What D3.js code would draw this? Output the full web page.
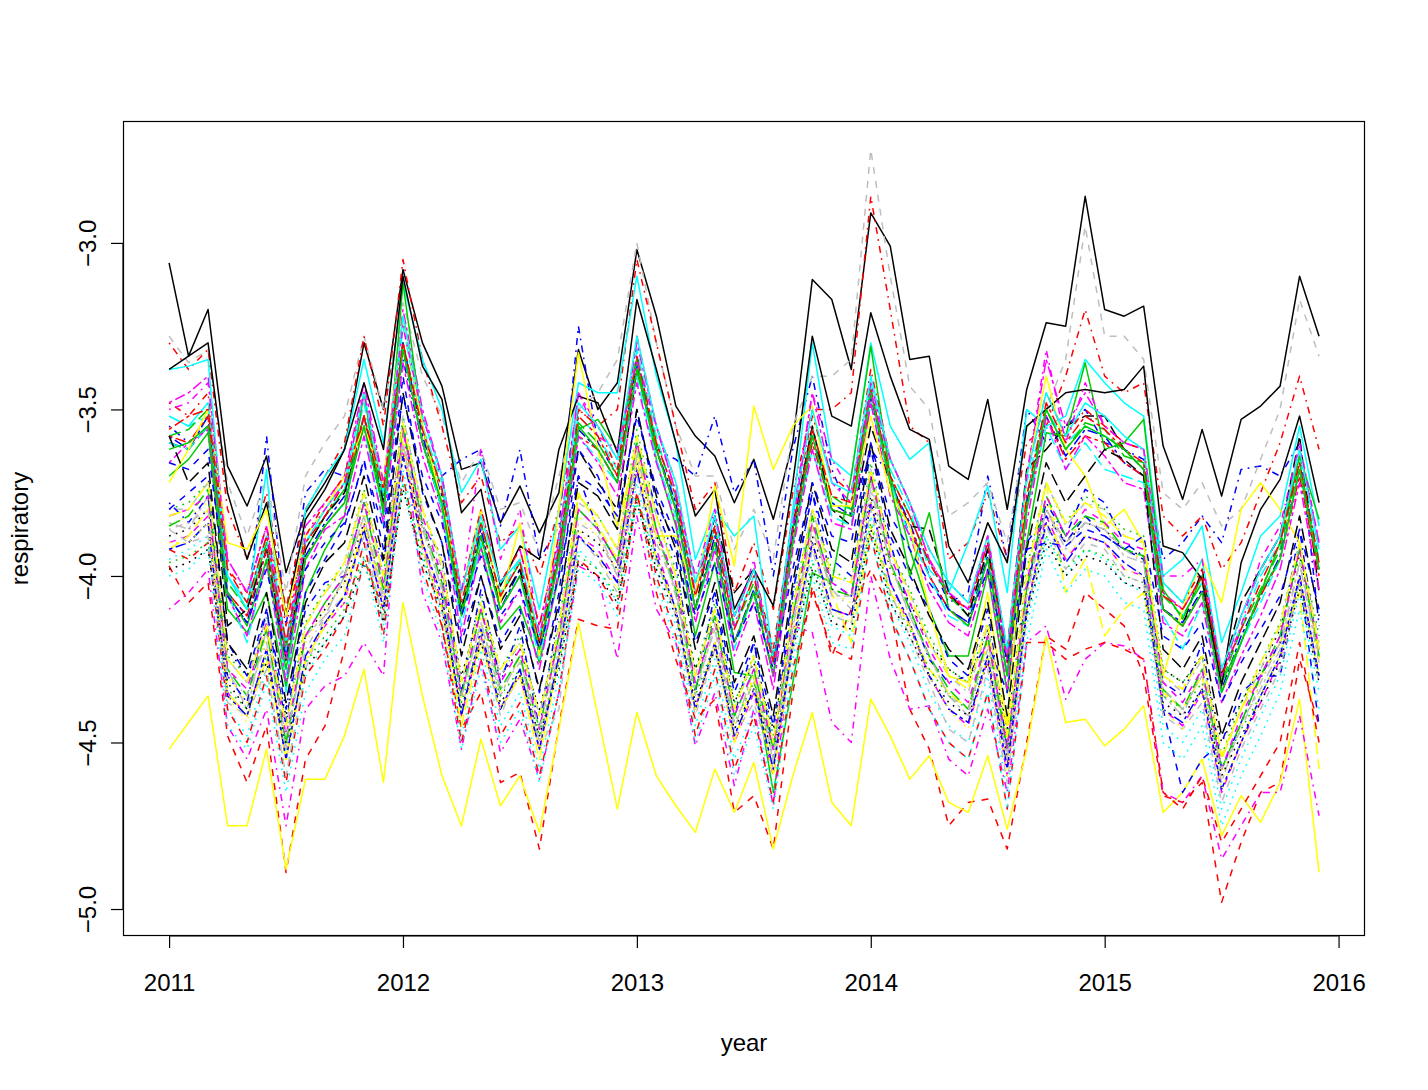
<!DOCTYPE html>
<html><head><meta charset="utf-8">
<script src="https://cdn.jsdelivr.net/npm/d3@7"></script>
<style>html,body{margin:0;padding:0;background:#fff;}svg text{font-family:"Liberation Sans",Arial,sans-serif;}</style>
</head><body>
<svg id="chart" width="1428" height="1090"></svg>
<script>
const yearTicks=[2011,2012,2013,2014,2015,2016];
const yTicks=[-5.0,-4.5,-4.0,-3.5,-3.0];
const palette=["#000000","#FF0000","#00CD00","#0000FF","#00FFFF","#FF00FF","#FFFF00","#BEBEBE"];
const dashes=[null,"7,7","1.75,5.25","1.75,5.25,7,5.25","12.25,5.25","3.5,3.5,10.5,3.5"];
const xLabel="year", yLabel="respiratory";

const s01=[-3.06,-3.34,-3.20,-3.67,-3.79,-3.64,-3.99,-3.81,-3.72,-3.62,-3.30,-3.50,-3.08,-3.30,-3.43,-3.68,-3.66,-3.84,-3.73,-3.87,-3.75,-3.32,-3.50,-3.42,-3.02,-3.22,-3.49,-3.58,-3.64,-3.78,-3.65,-3.83,-3.60,-3.11,-3.17,-3.38,-2.91,-3.01,-3.35,-3.34,-3.67,-3.71,-3.47,-3.80,-3.44,-3.24,-3.25,-2.86,-3.20,-3.22,-3.19,-3.61,-3.77,-3.56,-3.76,-3.53,-3.49,-3.43,-3.10,-3.28];
const s02=[-3.97,-4.08,-4.02,-4.48,-4.62,-4.45,-4.89,-4.55,-4.45,-4.22,-3.95,-4.10,-3.55,-3.90,-4.15,-4.46,-4.35,-4.62,-4.59,-4.82,-4.45,-4.13,-4.15,-4.16,-3.75,-4.05,-4.25,-4.43,-4.37,-4.71,-4.66,-4.82,-4.35,-4.03,-4.24,-4.10,-3.98,-4.10,-4.40,-4.52,-4.75,-4.68,-4.67,-4.82,-4.50,-4.18,-4.22,-4.05,-4.10,-4.15,-4.30,-4.66,-4.68,-4.62,-4.98,-4.80,-4.65,-4.62,-4.25,-4.45];
const s03=[-3.80,-3.78,-3.72,-4.24,-4.30,-4.12,-4.44,-4.14,-4.04,-3.96,-3.74,-4.00,-3.52,-3.80,-3.96,-4.32,-4.06,-4.28,-4.18,-4.42,-4.14,-3.76,-3.82,-3.92,-3.56,-3.82,-3.98,-4.28,-4.08,-4.38,-4.24,-4.48,-4.08,-3.80,-3.98,-4.02,-3.66,-3.92,-4.04,-4.18,-4.28,-4.32,-4.14,-4.48,-3.98,-3.72,-3.84,-3.76,-3.80,-3.86,-3.88,-4.28,-4.32,-4.24,-4.54,-4.38,-4.26,-4.14,-3.90,-4.18];
const s04=[-3.55,-3.60,-3.55,-4.05,-4.12,-3.58,-4.15,-3.75,-3.68,-3.70,-3.55,-3.80,-3.35,-3.60,-3.70,-3.65,-3.62,-3.85,-3.62,-3.95,-3.85,-3.25,-3.60,-3.70,-3.35,-3.62,-3.65,-3.70,-3.52,-3.75,-3.65,-4.00,-3.62,-3.40,-3.68,-3.82,-3.62,-3.70,-3.88,-3.95,-4.08,-4.05,-3.70,-3.95,-3.50,-3.60,-3.55,-3.50,-3.60,-3.62,-3.65,-3.95,-3.90,-3.82,-3.90,-3.68,-3.67,-3.70,-3.60,-4.15];
const s05=[-3.52,-3.55,-3.52,-4.00,-4.10,-3.90,-4.22,-3.90,-3.82,-3.74,-3.48,-3.78,-3.25,-3.55,-3.72,-4.10,-3.85,-4.05,-3.95,-4.20,-3.92,-3.52,-3.58,-3.68,-3.32,-3.58,-3.78,-4.05,-3.85,-4.15,-4.00,-4.25,-3.85,-3.55,-3.78,-3.80,-3.42,-3.68,-3.80,-3.98,-4.05,-4.12,-3.92,-4.25,-3.72,-3.50,-3.60,-3.55,-3.58,-3.62,-3.68,-4.05,-4.12,-4.02,-4.30,-4.15,-4.00,-3.90,-3.65,-3.95];
const s06=[-3.48,-3.45,-3.40,-3.95,-4.05,-3.85,-4.20,-3.85,-3.78,-3.70,-3.42,-3.72,-3.20,-3.50,-3.70,-4.05,-3.80,-4.02,-3.92,-4.15,-3.88,-3.45,-3.55,-3.65,-3.30,-3.55,-3.75,-4.05,-3.82,-4.12,-3.98,-4.25,-3.82,-3.45,-3.72,-3.78,-3.42,-3.65,-3.78,-3.95,-4.05,-4.10,-3.90,-4.25,-3.70,-3.35,-3.55,-3.45,-3.55,-3.60,-3.62,-4.05,-4.10,-4.00,-4.30,-4.12,-3.98,-3.88,-3.62,-3.90];
const s07=[-4.52,-4.44,-4.36,-4.75,-4.75,-4.52,-4.88,-4.61,-4.61,-4.48,-4.28,-4.62,-4.08,-4.36,-4.60,-4.75,-4.49,-4.69,-4.60,-4.77,-4.46,-4.14,-4.42,-4.70,-4.41,-4.60,-4.69,-4.77,-4.58,-4.71,-4.56,-4.82,-4.60,-4.41,-4.68,-4.75,-4.37,-4.48,-4.61,-4.54,-4.68,-4.71,-4.54,-4.76,-4.52,-4.18,-4.44,-4.43,-4.51,-4.46,-4.39,-4.71,-4.65,-4.55,-4.78,-4.66,-4.74,-4.62,-4.37,-4.89];
const s08=[-3.28,-3.36,-3.32,-3.72,-3.88,-3.70,-4.05,-3.70,-3.60,-3.52,-3.28,-3.50,-3.18,-3.40,-3.52,-3.72,-3.62,-3.80,-3.78,-3.93,-3.70,-3.50,-3.45,-3.35,-3.00,-3.30,-3.55,-3.70,-3.70,-3.92,-3.80,-3.95,-3.55,-3.40,-3.40,-3.35,-2.72,-3.10,-3.43,-3.50,-3.82,-3.78,-3.72,-3.90,-3.55,-3.50,-3.35,-2.95,-3.28,-3.28,-3.35,-3.75,-3.80,-3.72,-3.85,-3.80,-3.65,-3.50,-3.17,-3.34];
const s09=[-3.88,-3.86,-3.80,-4.22,-4.30,-4.16,-4.42,-4.18,-4.10,-4.02,-3.84,-4.04,-3.62,-3.86,-4.00,-4.30,-4.10,-4.30,-4.22,-4.40,-4.18,-3.86,-3.90,-3.98,-3.66,-3.88,-4.02,-4.28,-4.12,-4.38,-4.26,-4.46,-4.12,-3.88,-4.04,-4.06,-3.76,-3.98,-4.08,-4.20,-4.28,-4.32,-4.16,-4.46,-4.02,-3.80,-3.90,-3.84,-3.86,-3.92,-3.94,-4.28,-4.32,-4.24,-4.50,-4.38,-4.28,-4.16,-3.94,-4.22];
const s10=[-3.30,-3.38,-3.32,-3.80,-3.95,-3.75,-4.10,-3.80,-3.70,-3.60,-3.28,-3.55,-3.05,-3.35,-3.55,-3.78,-3.70,-3.90,-3.85,-4.00,-3.80,-3.50,-3.55,-3.50,-3.05,-3.30,-3.55,-3.80,-3.72,-4.05,-3.90,-4.10,-3.75,-3.50,-3.50,-3.45,-2.86,-3.20,-3.55,-3.60,-3.95,-3.90,-3.75,-3.95,-3.60,-3.55,-3.40,-3.20,-3.40,-3.45,-3.42,-3.82,-3.88,-3.82,-3.98,-3.90,-3.75,-3.60,-3.40,-3.62];
const s11=[-3.58,-3.56,-3.50,-4.02,-4.10,-3.90,-4.22,-3.92,-3.82,-3.74,-3.52,-3.76,-3.30,-3.56,-3.74,-4.10,-3.84,-4.06,-3.96,-4.20,-3.92,-3.54,-3.60,-3.70,-3.34,-3.60,-3.76,-4.06,-3.86,-4.16,-4.02,-4.26,-3.86,-3.56,-3.76,-3.80,-3.44,-3.70,-3.82,-3.96,-4.06,-4.12,-3.92,-4.26,-3.76,-3.50,-3.62,-3.54,-3.56,-3.64,-3.66,-4.06,-4.12,-4.02,-4.32,-4.16,-4.04,-3.92,-3.66,-3.96];
const s12=[-3.58,-3.62,-3.52,-4.06,-4.14,-3.92,-4.26,-3.94,-3.84,-3.76,-3.52,-3.78,-3.30,-3.58,-3.76,-4.12,-3.86,-4.10,-3.98,-4.24,-3.94,-3.56,-3.62,-3.72,-3.36,-3.62,-3.78,-4.10,-3.88,-4.20,-4.04,-4.30,-3.88,-3.58,-3.78,-3.82,-3.46,-3.72,-3.84,-4.00,-4.10,-4.14,-3.94,-4.30,-3.78,-3.52,-3.64,-3.56,-3.58,-3.66,-3.70,-4.10,-4.14,-4.04,-4.34,-4.18,-4.06,-3.94,-3.68,-3.98];
const s13=[-3.38,-3.37,-3.35,-4.00,-4.10,-3.68,-4.35,-3.80,-3.70,-3.62,-3.35,-3.60,-3.12,-3.35,-3.50,-3.75,-3.65,-3.92,-3.85,-4.10,-3.80,-3.42,-3.45,-3.45,-3.10,-3.40,-3.60,-3.95,-3.80,-3.88,-3.82,-4.25,-3.80,-3.30,-3.65,-3.70,-3.30,-3.55,-3.65,-3.60,-4.05,-3.90,-3.73,-4.05,-3.50,-3.55,-3.52,-3.35,-3.42,-3.48,-3.52,-4.00,-3.95,-3.85,-4.20,-4.05,-3.88,-3.82,-3.55,-3.85];
const s14=[-3.90,-3.88,-3.82,-4.35,-4.42,-4.22,-4.55,-4.25,-4.15,-4.08,-3.85,-4.10,-3.62,-3.90,-4.08,-4.42,-4.18,-4.40,-4.30,-4.52,-4.25,-3.88,-3.92,-4.02,-3.68,-3.92,-4.10,-4.40,-4.20,-4.50,-4.35,-4.60,-4.20,-3.90,-4.10,-4.12,-3.78,-4.02,-4.15,-4.30,-4.40,-4.45,-4.25,-4.60,-4.10,-3.82,-3.95,-3.88,-3.90,-3.98,-4.00,-4.40,-4.45,-4.35,-4.65,-4.50,-4.38,-4.25,-4.00,-4.30];
const s15=[-3.85,-3.82,-3.78,-4.30,-4.38,-4.18,-4.50,-4.20,-4.10,-4.02,-3.80,-4.05,-3.58,-3.85,-4.02,-4.38,-4.12,-4.35,-4.25,-4.48,-4.20,-3.82,-3.88,-3.98,-3.62,-3.88,-4.05,-4.35,-4.15,-4.45,-4.30,-4.55,-4.15,-3.85,-4.05,-4.08,-3.72,-3.98,-4.10,-4.25,-4.35,-4.40,-4.20,-4.55,-4.05,-3.78,-3.90,-3.82,-3.85,-3.92,-3.95,-4.35,-4.40,-4.30,-4.60,-4.45,-4.32,-4.20,-3.95,-4.25];
const s16=[-3.80,-3.80,-3.72,-4.25,-4.32,-4.12,-4.45,-4.15,-4.05,-3.98,-3.75,-4.00,-3.52,-3.80,-3.98,-4.32,-4.08,-4.30,-4.20,-4.42,-4.15,-3.78,-3.82,-3.92,-3.58,-3.82,-4.00,-4.30,-4.10,-4.40,-4.25,-4.50,-4.10,-3.80,-4.00,-4.02,-3.68,-3.92,-4.05,-4.20,-4.30,-4.35,-4.15,-4.50,-4.00,-3.72,-3.85,-3.78,-3.80,-3.88,-3.90,-4.30,-4.35,-4.25,-4.55,-4.40,-4.28,-4.15,-3.90,-4.20];
const s17=[-3.60,-3.62,-3.55,-4.15,-4.10,-3.92,-4.25,-3.92,-3.82,-3.75,-3.55,-3.78,-3.32,-3.60,-3.80,-4.10,-3.88,-4.08,-3.98,-4.20,-3.95,-3.62,-3.72,-3.80,-3.38,-3.62,-3.80,-4.10,-3.82,-4.05,-3.98,-4.25,-3.85,-3.55,-3.80,-3.85,-3.55,-3.72,-3.85,-3.86,-4.05,-4.12,-3.92,-4.22,-3.68,-3.62,-3.55,-3.52,-3.52,-3.62,-3.68,-4.10,-4.15,-3.98,-4.30,-4.08,-3.98,-3.88,-3.58,-4.05];
const s18=[-3.58,-3.60,-3.52,-4.05,-4.12,-3.92,-4.25,-3.95,-3.85,-3.78,-3.52,-3.80,-3.30,-3.60,-3.78,-4.12,-3.88,-4.10,-4.00,-4.22,-3.95,-3.58,-3.62,-3.72,-3.38,-3.62,-3.80,-4.10,-3.90,-4.20,-4.05,-4.30,-3.90,-3.60,-3.80,-3.82,-3.48,-3.72,-3.85,-4.00,-4.10,-4.15,-3.95,-4.30,-3.80,-3.52,-3.65,-3.58,-3.60,-3.66,-3.70,-4.10,-4.15,-4.05,-4.35,-4.20,-4.06,-3.95,-3.70,-4.00];
const s19=[-3.70,-3.65,-3.57,-4.10,-4.17,-4.05,-4.33,-4.05,-3.92,-3.82,-3.45,-3.82,-3.12,-3.55,-3.80,-4.11,-3.91,-4.16,-4.09,-4.26,-4.00,-3.56,-3.53,-3.62,-3.35,-3.65,-3.85,-4.18,-3.96,-4.29,-4.30,-4.65,-4.32,-3.99,-4.02,-3.70,-3.31,-3.70,-3.92,-4.10,-4.24,-4.24,-3.99,-4.35,-3.90,-3.57,-3.58,-3.36,-3.62,-3.60,-3.53,-4.04,-4.13,-4.00,-4.32,-4.20,-4.05,-3.90,-3.64,-3.83];
const s20=[-3.80,-3.75,-3.70,-4.20,-4.30,-4.10,-4.45,-4.05,-3.95,-3.85,-3.65,-3.92,-3.40,-3.75,-3.90,-4.20,-4.00,-4.20,-4.10,-4.35,-4.05,-3.62,-3.70,-3.85,-3.50,-3.78,-3.90,-4.20,-4.05,-4.35,-4.20,-4.45,-4.05,-3.75,-3.95,-4.00,-3.62,-3.88,-4.00,-4.10,-4.25,-4.30,-4.20,-4.35,-3.90,-3.82,-3.90,-3.82,-3.88,-3.92,-3.95,-4.40,-4.65,-4.55,-4.50,-4.35,-4.30,-4.30,-4.00,-4.45];
const s21=[-3.95,-3.92,-3.88,-4.40,-4.48,-4.28,-4.60,-4.30,-4.20,-4.12,-3.90,-4.15,-3.68,-3.95,-4.12,-4.48,-4.22,-4.45,-4.35,-4.58,-4.30,-3.92,-3.98,-4.08,-3.72,-3.98,-4.15,-4.45,-4.25,-4.55,-4.40,-4.65,-4.25,-3.95,-4.15,-4.18,-3.82,-4.08,-4.20,-4.35,-4.45,-4.50,-4.30,-4.65,-4.15,-3.88,-4.00,-3.92,-3.95,-4.02,-4.05,-4.45,-4.50,-4.40,-4.70,-4.55,-4.42,-4.30,-4.05,-4.35];
const s22=[-4.10,-4.05,-3.98,-4.45,-4.55,-4.40,-4.75,-4.40,-4.33,-4.30,-4.20,-4.30,-3.55,-4.05,-4.20,-4.52,-4.25,-4.53,-4.43,-4.61,-4.35,-3.97,-4.00,-4.25,-3.82,-4.10,-4.20,-4.51,-4.35,-4.63,-4.40,-4.69,-4.15,-4.17,-4.44,-4.50,-4.00,-4.25,-4.40,-4.39,-4.55,-4.60,-4.40,-4.65,-4.20,-4.15,-4.37,-4.25,-4.20,-4.21,-4.25,-4.65,-4.68,-4.60,-4.85,-4.75,-4.65,-4.65,-4.42,-4.72];
const s23=[-3.92,-3.88,-3.80,-4.35,-4.42,-4.25,-4.55,-4.25,-4.15,-4.05,-3.85,-4.05,-3.60,-3.92,-4.10,-4.45,-4.20,-4.40,-4.30,-4.55,-4.25,-3.75,-3.85,-3.95,-3.65,-3.95,-4.10,-4.40,-4.20,-4.50,-4.30,-4.60,-4.20,-3.85,-4.05,-4.20,-3.85,-4.05,-4.15,-4.28,-4.35,-4.40,-4.20,-4.50,-4.00,-3.72,-4.05,-3.95,-4.18,-4.10,-4.05,-4.35,-4.40,-4.30,-4.55,-4.40,-4.30,-4.20,-4.05,-4.58];
const s24=[-3.84,-3.86,-3.76,-4.28,-4.40,-4.16,-4.52,-4.18,-4.12,-4.00,-3.82,-4.08,-3.56,-3.86,-4.04,-4.36,-4.14,-4.36,-4.24,-4.50,-4.22,-3.80,-3.86,-4.00,-3.64,-3.86,-4.06,-4.34,-4.16,-4.46,-4.28,-4.56,-4.16,-3.84,-4.06,-4.06,-3.74,-3.96,-4.12,-4.24,-4.36,-4.42,-4.18,-4.56,-4.06,-3.80,-3.92,-3.84,-3.86,-3.94,-3.96,-4.36,-4.42,-4.28,-4.62,-4.44,-4.34,-4.22,-3.96,-4.26];
const s25=[-3.38,-3.34,-3.30,-3.75,-3.95,-3.78,-4.12,-3.83,-3.74,-3.62,-3.42,-3.62,-3.10,-3.37,-3.47,-3.81,-3.74,-4.03,-3.91,-3.95,-3.62,-3.46,-3.48,-3.63,-3.17,-3.38,-3.60,-3.82,-3.74,-4.10,-3.98,-4.09,-3.72,-3.28,-3.52,-3.55,-3.21,-3.40,-3.56,-3.59,-3.91,-4.02,-3.84,-3.96,-3.55,-3.50,-3.45,-3.44,-3.45,-3.44,-3.37,-3.91,-3.93,-4.01,-4.33,-3.96,-3.80,-3.71,-3.52,-3.78];
const s26=[-3.92,-3.95,-3.90,-4.40,-4.50,-4.30,-4.62,-4.30,-4.22,-4.12,-3.90,-4.18,-3.70,-3.98,-4.15,-4.50,-4.25,-4.48,-4.38,-4.60,-4.35,-3.95,-4.00,-4.10,-3.75,-4.00,-4.18,-4.48,-4.28,-4.58,-4.42,-4.68,-4.28,-4.05,-4.22,-4.25,-3.88,-4.12,-4.25,-4.40,-4.50,-4.55,-4.35,-4.70,-4.20,-4.20,-4.25,-4.22,-4.20,-4.22,-4.25,-4.65,-4.70,-4.60,-4.80,-4.70,-4.60,-4.50,-4.20,-4.50];
const s27=[-3.96,-3.94,-3.90,-4.34,-4.40,-4.24,-4.52,-4.26,-4.18,-4.10,-3.94,-4.12,-3.72,-3.94,-4.08,-4.38,-4.18,-4.36,-4.28,-4.48,-4.26,-3.94,-3.98,-4.06,-3.76,-3.96,-4.10,-4.36,-4.20,-4.44,-4.32,-4.52,-4.20,-3.96,-4.12,-4.14,-3.84,-4.06,-4.16,-4.28,-4.36,-4.40,-4.24,-4.52,-4.10,-3.88,-3.98,-3.92,-3.94,-4.00,-4.02,-4.36,-4.40,-4.32,-4.58,-4.46,-4.36,-4.24,-4.02,-4.30];
const s28=[-3.78,-3.84,-3.76,-4.30,-4.38,-4.10,-4.40,-4.10,-4.02,-4.00,-3.78,-3.96,-3.55,-3.85,-3.94,-4.35,-4.04,-4.32,-4.15,-4.46,-4.10,-3.70,-3.86,-3.96,-3.60,-3.80,-3.95,-4.35,-4.05,-4.42,-4.20,-4.52,-4.05,-3.75,-4.02,-4.06,-3.70,-3.90,-4.10,-4.25,-4.32,-4.30,-4.10,-4.52,-4.04,-3.78,-3.88,-3.74,-3.78,-3.90,-3.94,-4.32,-4.36,-4.20,-4.58,-4.44,-4.30,-4.20,-3.86,-4.25];
const s29=[-3.60,-3.62,-3.55,-4.05,-4.20,-3.95,-4.30,-3.95,-3.85,-3.78,-3.55,-3.85,-3.32,-3.60,-3.80,-4.15,-3.90,-4.10,-4.00,-4.25,-3.95,-3.58,-3.65,-3.72,-3.40,-3.65,-3.82,-4.10,-3.92,-4.22,-4.05,-4.30,-3.90,-3.62,-3.82,-3.85,-3.48,-3.72,-3.88,-4.00,-4.12,-4.15,-3.95,-4.30,-3.80,-3.55,-3.68,-3.60,-3.68,-3.70,-3.72,-4.12,-4.22,-4.08,-4.35,-4.20,-4.08,-3.95,-3.68,-3.98];
const s30=[-3.66,-3.60,-3.56,-4.06,-4.18,-3.96,-4.32,-3.98,-3.86,-3.82,-3.58,-3.84,-3.36,-3.64,-3.82,-4.18,-3.92,-4.14,-4.04,-4.28,-3.98,-3.58,-3.66,-3.76,-3.42,-3.66,-3.84,-4.14,-3.92,-4.24,-4.08,-4.34,-3.92,-3.62,-3.84,-3.86,-3.48,-3.76,-3.88,-4.04,-4.14,-4.18,-3.98,-4.34,-3.84,-3.52,-3.68,-3.58,-3.64,-3.72,-3.74,-4.14,-4.18,-4.08,-4.38,-4.24,-4.12,-3.98,-3.72,-4.04];
const s31=[-3.72,-3.62,-3.50,-3.90,-3.92,-3.80,-4.12,-3.88,-3.80,-3.70,-3.55,-3.72,-3.22,-3.55,-3.78,-4.05,-3.80,-4.08,-3.84,-4.24,-3.80,-3.33,-3.62,-3.85,-3.62,-3.88,-3.88,-4.06,-3.73,-3.97,-3.49,-3.68,-3.55,-3.49,-3.79,-3.79,-3.52,-3.75,-3.85,-4.10,-4.30,-4.32,-4.05,-4.45,-3.70,-3.40,-3.62,-3.70,-3.85,-3.80,-3.90,-4.30,-4.10,-3.95,-4.08,-3.80,-3.72,-3.80,-3.90,-4.25];
const s32=[-3.86,-3.90,-3.88,-4.38,-4.42,-4.28,-4.60,-4.28,-4.12,-4.06,-3.88,-4.14,-3.60,-3.92,-4.10,-4.40,-4.18,-4.42,-4.28,-4.52,-4.40,-3.88,-3.95,-4.05,-3.70,-3.95,-4.12,-4.42,-4.22,-4.48,-4.38,-4.58,-4.22,-3.92,-4.12,-4.14,-3.80,-4.05,-4.18,-4.32,-4.46,-4.50,-4.28,-4.62,-4.12,-3.85,-3.98,-3.90,-3.92,-4.00,-4.02,-4.42,-4.46,-4.38,-4.68,-4.52,-4.40,-4.28,-4.02,-4.32];
const s33=[-3.98,-3.96,-3.92,-4.32,-4.40,-4.26,-4.50,-4.28,-4.20,-4.12,-3.96,-4.14,-3.74,-3.96,-4.10,-4.40,-4.20,-4.38,-4.30,-4.48,-4.28,-3.96,-4.00,-4.08,-3.78,-3.98,-4.12,-4.38,-4.22,-4.46,-4.34,-4.54,-4.22,-3.98,-4.14,-4.16,-3.86,-4.08,-4.18,-4.30,-4.38,-4.42,-4.26,-4.54,-4.12,-3.90,-4.00,-3.94,-3.96,-4.02,-4.04,-4.38,-4.42,-4.34,-4.60,-4.48,-4.38,-4.26,-4.04,-4.32];
const s34=[-3.48,-3.52,-3.45,-3.98,-4.05,-3.85,-4.15,-3.88,-3.78,-3.70,-3.45,-3.75,-3.22,-3.52,-3.70,-4.05,-3.80,-4.02,-3.92,-4.15,-3.88,-3.50,-3.55,-3.68,-3.28,-3.55,-3.72,-4.02,-3.85,-4.12,-3.98,-4.22,-3.82,-3.52,-3.70,-3.75,-3.38,-3.65,-3.78,-3.92,-4.02,-4.08,-3.88,-4.22,-3.70,-3.45,-3.58,-3.50,-3.55,-3.60,-3.62,-4.02,-4.08,-3.98,-4.28,-4.12,-3.98,-3.88,-3.62,-3.92];
const s35=[-3.85,-3.82,-3.74,-4.28,-4.36,-4.16,-4.50,-4.18,-4.08,-4.00,-3.78,-4.04,-3.55,-3.84,-4.02,-4.36,-4.10,-4.34,-4.24,-4.46,-4.18,-3.80,-3.86,-3.96,-3.60,-3.86,-4.04,-4.34,-4.12,-4.42,-4.28,-4.52,-4.12,-3.82,-4.04,-4.06,-3.70,-3.96,-4.10,-4.24,-4.34,-4.40,-4.18,-4.52,-4.04,-3.76,-3.88,-3.82,-3.84,-3.92,-3.94,-4.34,-4.40,-4.28,-4.58,-4.44,-4.30,-4.18,-3.92,-4.24];
const s36=[-3.92,-3.90,-3.84,-4.36,-4.42,-4.22,-4.55,-4.24,-4.14,-4.06,-3.86,-4.10,-3.64,-3.90,-4.06,-4.42,-4.16,-4.40,-4.28,-4.52,-4.24,-3.88,-3.94,-4.02,-3.68,-3.94,-4.10,-4.40,-4.20,-4.48,-4.34,-4.58,-4.20,-3.90,-4.10,-4.12,-3.78,-4.02,-4.14,-4.30,-4.40,-4.44,-4.24,-4.58,-4.10,-3.84,-3.96,-3.88,-3.90,-3.96,-4.00,-4.40,-4.44,-4.34,-4.64,-4.50,-4.36,-4.24,-4.00,-4.30];
const s37=[-3.52,-3.55,-3.48,-4.00,-4.08,-3.88,-4.20,-3.90,-3.80,-3.72,-3.45,-3.75,-3.22,-3.52,-3.70,-4.05,-3.82,-4.02,-3.95,-4.18,-3.90,-3.48,-3.55,-3.65,-3.28,-3.55,-3.72,-4.02,-3.82,-4.12,-3.98,-4.25,-3.82,-3.50,-3.72,-3.75,-3.40,-3.65,-3.78,-3.92,-4.02,-4.08,-3.88,-4.22,-3.70,-3.45,-3.58,-3.48,-3.52,-3.58,-3.62,-4.02,-4.08,-3.95,-4.28,-4.12,-3.98,-3.88,-3.62,-3.92];
const s38=[-3.82,-3.80,-3.76,-4.28,-4.34,-4.14,-4.48,-4.18,-4.08,-4.00,-3.78,-4.02,-3.56,-3.82,-4.00,-4.36,-4.10,-4.32,-4.22,-4.46,-4.18,-3.80,-3.86,-3.96,-3.60,-3.86,-4.02,-4.32,-4.14,-4.42,-4.28,-4.52,-4.12,-3.84,-4.02,-4.06,-3.70,-3.94,-4.08,-4.22,-4.32,-4.38,-4.18,-4.52,-4.02,-3.76,-3.88,-3.80,-3.84,-3.90,-3.92,-4.32,-4.38,-4.28,-4.58,-4.42,-4.30,-4.18,-3.92,-4.22];
const s39=[-3.90,-3.90,-3.84,-4.36,-4.44,-4.22,-4.56,-4.26,-4.14,-4.08,-3.84,-4.10,-3.62,-3.90,-4.06,-4.44,-4.16,-4.40,-4.30,-4.52,-4.26,-3.86,-3.94,-4.04,-3.66,-3.94,-4.10,-4.40,-4.20,-4.50,-4.34,-4.60,-4.20,-3.90,-4.10,-4.14,-3.78,-4.04,-4.14,-4.30,-4.40,-4.46,-4.24,-4.60,-4.10,-3.84,-3.94,-3.88,-3.90,-3.98,-4.00,-4.40,-4.46,-4.34,-4.64,-4.50,-4.36,-4.24,-4.00,-4.30];
const s40=[-3.86,-3.84,-3.80,-4.30,-4.36,-4.20,-4.48,-4.22,-4.12,-4.00,-3.82,-4.06,-3.60,-3.84,-4.04,-4.36,-4.14,-4.34,-4.26,-4.46,-4.20,-3.84,-3.88,-4.00,-3.62,-3.90,-4.04,-4.36,-4.14,-4.44,-4.32,-4.54,-4.14,-3.86,-4.04,-4.10,-3.72,-3.96,-4.12,-4.24,-4.36,-4.40,-4.22,-4.54,-4.06,-3.80,-3.90,-3.84,-3.86,-3.92,-3.96,-4.34,-4.40,-4.30,-4.58,-4.46,-4.32,-4.20,-3.96,-4.24];
const s41=[-3.58,-3.72,-3.66,-4.20,-4.28,-4.05,-4.38,-4.08,-3.96,-3.90,-3.70,-3.95,-3.45,-3.74,-3.90,-4.24,-4.00,-4.22,-4.12,-4.34,-4.08,-3.72,-3.76,-3.86,-3.50,-3.76,-3.92,-4.22,-4.02,-4.32,-4.18,-4.42,-4.02,-3.72,-3.92,-3.96,-3.60,-3.86,-3.98,-4.12,-4.22,-4.28,-4.08,-4.42,-3.92,-3.66,-3.78,-3.70,-3.62,-3.65,-3.70,-4.22,-4.28,-4.18,-4.48,-4.32,-4.20,-4.08,-3.82,-4.12];
const s42=[-3.56,-3.52,-3.50,-3.98,-4.08,-3.88,-4.20,-3.90,-3.82,-3.72,-3.52,-3.74,-3.30,-3.56,-3.74,-4.08,-3.84,-4.06,-3.96,-4.20,-3.92,-3.52,-3.58,-3.70,-3.34,-3.60,-3.76,-4.06,-3.86,-4.16,-4.00,-4.26,-3.86,-3.56,-3.76,-3.78,-3.44,-3.70,-3.82,-3.96,-4.06,-4.10,-3.90,-4.26,-3.76,-3.48,-3.60,-3.52,-3.56,-3.62,-3.66,-4.06,-4.10,-4.00,-4.30,-4.16,-4.02,-3.90,-3.66,-3.96];
const s43=[-3.62,-3.60,-3.55,-4.05,-4.15,-3.95,-4.28,-3.95,-3.85,-3.78,-3.55,-3.80,-3.32,-3.60,-3.78,-4.12,-3.88,-4.10,-4.00,-4.22,-3.95,-3.55,-3.62,-3.72,-3.38,-3.62,-3.80,-4.10,-3.90,-4.20,-4.05,-4.30,-3.90,-3.58,-3.80,-3.82,-3.45,-3.72,-4.00,-3.81,-4.10,-4.15,-3.95,-4.30,-3.80,-3.50,-3.62,-3.55,-3.58,-3.62,-3.68,-4.10,-4.15,-4.05,-4.35,-4.20,-4.05,-3.95,-3.68,-3.98];
const s44=[-3.66,-3.68,-3.62,-4.06,-4.14,-3.98,-4.24,-3.98,-3.90,-3.84,-3.66,-3.86,-3.46,-3.70,-3.84,-4.12,-3.94,-4.12,-4.04,-4.22,-4.00,-3.70,-3.74,-3.82,-3.52,-3.74,-3.88,-4.12,-3.96,-4.20,-4.08,-4.28,-3.98,-3.72,-3.88,-3.90,-3.60,-3.82,-3.92,-4.02,-4.10,-4.14,-3.98,-4.26,-3.92,-3.90,-3.91,-3.86,-3.88,-3.92,-3.88,-4.18,-4.22,-4.14,-4.38,-4.26,-4.16,-4.06,-3.86,-4.10];
const s45=[-4.00,-3.98,-3.92,-4.45,-4.52,-4.32,-4.65,-4.35,-4.25,-4.18,-3.95,-4.20,-3.72,-4.00,-4.18,-4.52,-4.28,-4.50,-4.40,-4.62,-4.35,-3.98,-4.02,-4.12,-3.78,-4.02,-4.20,-4.50,-4.30,-4.60,-4.45,-4.70,-4.30,-4.00,-4.20,-4.22,-3.88,-4.12,-4.25,-4.40,-4.50,-4.55,-4.35,-4.70,-4.20,-3.92,-4.05,-3.98,-4.00,-4.08,-4.10,-4.50,-4.55,-4.45,-4.75,-4.60,-4.48,-4.35,-4.10,-4.40];
const s46=[-3.50,-3.48,-3.42,-3.95,-4.05,-3.85,-4.25,-3.88,-3.80,-3.72,-3.45,-3.72,-3.25,-3.52,-3.70,-4.05,-3.62,-3.95,-3.80,-4.18,-3.90,-3.45,-3.58,-3.62,-3.35,-3.55,-3.75,-4.00,-3.80,-4.15,-3.95,-4.30,-3.85,-3.45,-3.65,-3.75,-3.45,-3.65,-3.78,-3.95,-4.05,-4.10,-3.88,-4.25,-3.70,-3.32,-3.60,-3.42,-3.55,-3.60,-3.62,-4.00,-4.00,-3.95,-4.30,-4.15,-3.95,-3.85,-3.60,-3.90];
const s47=[-3.82,-3.80,-3.72,-4.25,-4.32,-4.15,-4.45,-4.15,-4.05,-3.96,-3.75,-4.00,-3.54,-3.80,-3.96,-4.32,-4.08,-4.28,-4.20,-4.42,-4.16,-3.76,-3.82,-3.92,-3.58,-3.82,-4.00,-4.30,-4.10,-4.40,-4.24,-4.50,-4.10,-3.80,-4.00,-4.02,-3.68,-3.92,-4.06,-4.20,-4.30,-4.34,-4.14,-4.48,-4.00,-3.72,-3.84,-3.78,-3.82,-3.88,-3.90,-4.30,-4.34,-4.24,-4.54,-4.40,-4.26,-4.15,-3.90,-4.22];

const series=[s01,s02,s03,s04,s05,s06,s07,s08,s09,s10,s11,s12,s13,s14,s15,s16,s17,s18,s19,s20,s21,s22,s23,s24,s25,s26,s27,s28,s29,s30,s31,s32,s33,s34,s35,s36,s37,s38,s39,s40,s41,s42,s43,s44,s45,s46,s47];

const svg=d3.select("#chart");
const L=123,R=1365,T=121,B=936;
const x=d3.scaleLinear().domain([2010.803,2016.113]).range([L,R]);
const y=d3.scaleLinear().domain([-5.081,-2.634]).range([B,T]);

svg.append("clipPath").attr("id","plotclip").append("rect").attr("x",L).attr("y",T).attr("width",R-L).attr("height",B-T);
const line=d3.line().x((d,i)=>x(2011+i/12)).y(d=>y(d));
const g=svg.append("g").attr("clip-path","url(#plotclip)");
series.forEach((s,k)=>{
  const p=g.append("path").datum(s).attr("d",line).attr("fill","none")
    .attr("stroke",palette[k%8]).attr("stroke-width",1.5).attr("stroke-linejoin","round");
  const da=dashes[k%6]; if(da) p.attr("stroke-dasharray",da);
});

svg.append("rect").attr("x",L+0.5).attr("y",T+0.5).attr("width",R-L-1).attr("height",B-T-1).attr("fill","none").attr("stroke","#000").attr("stroke-width",1.2);

const fmt=d=>d3.format(".1f")(d).replace("-","\u2212");
const xa=svg.append("g").attr("transform",`translate(0,${B})`)
  .call(d3.axisBottom(x).tickValues(yearTicks).tickSize(12).tickPadding(26).tickFormat(d3.format("d")));
xa.select(".domain").remove();
xa.append("line").attr("x1",x(2011)).attr("x2",x(2016)).attr("stroke","#000").attr("stroke-width",1.2);
xa.selectAll(".tick line").attr("stroke","#000").attr("stroke-width",1.2);
xa.selectAll("text").attr("font-size",24).attr("fill","#000").style("font-family","'Liberation Sans',Arial,sans-serif");

const ya=svg.append("g").attr("transform",`translate(${L},0)`)
  .call(d3.axisLeft(y).tickValues(yTicks).tickSize(12).tickFormat(fmt));
ya.select(".domain").remove();
ya.append("line").attr("y1",y(-3.0)).attr("y2",y(-5.0)).attr("stroke","#000").attr("stroke-width",1.2);
ya.selectAll(".tick line").attr("stroke","#000").attr("stroke-width",1.2);
ya.selectAll("text").attr("x",null).attr("dy",null).attr("font-size",24).attr("fill","#000")
  .attr("text-anchor","middle").attr("transform","translate(-27,0) rotate(-90)")
  .style("font-family","'Liberation Sans',Arial,sans-serif");

svg.append("text").attr("x",(L+R)/2).attr("y",1051).attr("text-anchor","middle").attr("font-size",24).text(xLabel);
svg.append("text").attr("transform",`translate(28,${(T+B)/2}) rotate(-90)`).attr("text-anchor","middle").attr("font-size",24).text(yLabel);
</script>
</body></html>
